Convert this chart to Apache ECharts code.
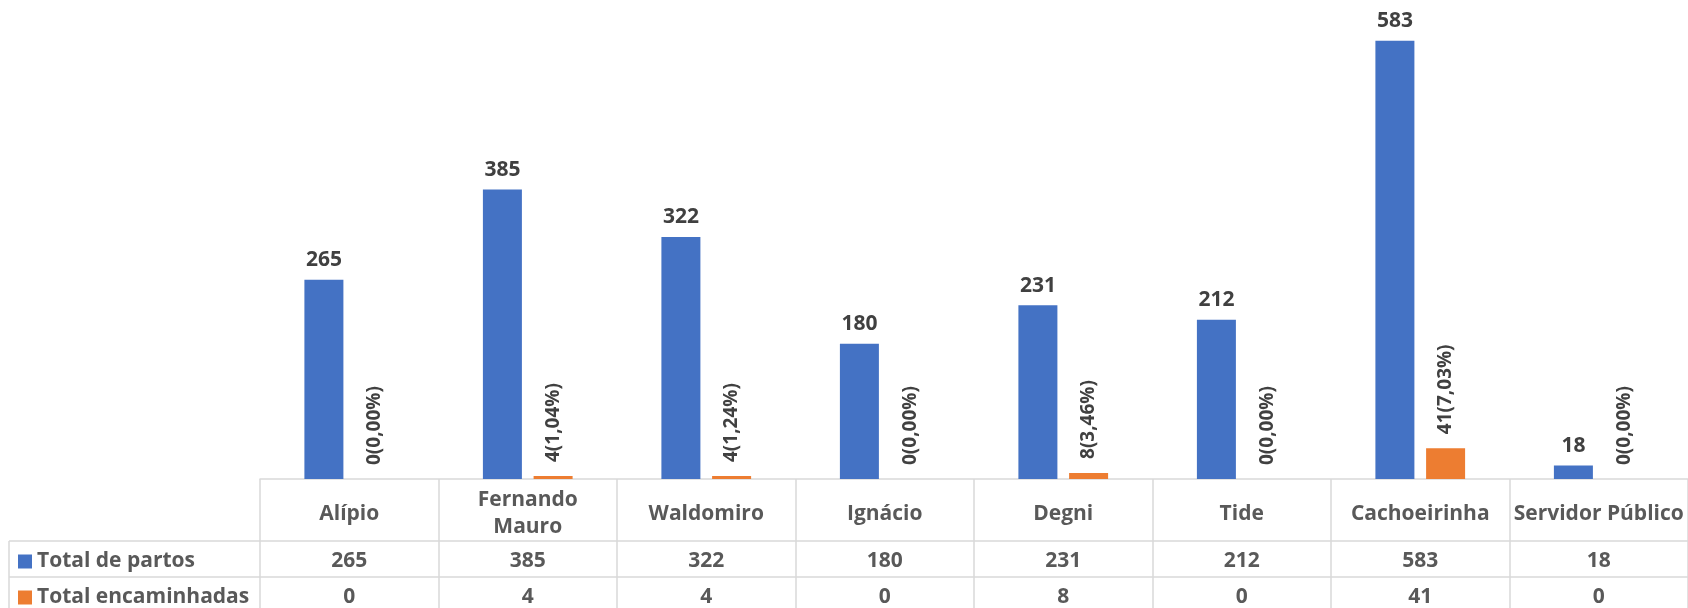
<!DOCTYPE html>
<html>
<head>
<meta charset="utf-8">
<title>Total de partos e encaminhadas por unidade</title>
<script src="https://cdn.jsdelivr.net/npm/echarts@6/dist/echarts.min.js"></script>
<style>
  html, body { margin: 0; padding: 0; background: #ffffff; }
  #chart { width: 1688px; height: 608px; }
</style>
</head>
<body>
<div id="chart"></div>
<script>
// Units (categories) and the two series shown as bars and in the data table
const categories = ['Alípio', 'Fernando\nMauro', 'Waldomiro', 'Ignácio', 'Degni', 'Tide', 'Cachoeirinha', 'Servidor Público'];
const totalPartos = [265, 385, 322, 180, 231, 212, 583, 18];
const totalEncaminhadas = [0, 4, 4, 0, 8, 0, 41, 0];
const seriesNames = ['Total de partos', 'Total encaminhadas'];

// Layout
const FONT = '"Open Sans", "Liberation Sans", sans-serif';
const GRID_LEFT = 260;
const GRID_TOP = 28;
const GRID_BOTTOM = 129;
const HEADER_H = 62;
const ROW_H = 36;
const TABLE_LEFT = 9;
const LINE_COLOR = '#d9d9d9';
const TEXT_COLOR = '#595959';
const LABEL_COLOR = '#404040';
const BLUE = '#4472C4';
const ORANGE = '#ED7D31';

const chart = echarts.init(document.getElementById('chart'), null, { renderer: 'canvas' });
const H = 608;
const baseY = H - GRID_BOTTOM;

// Share of referrals over births, written with a decimal comma
function pctLabel(params) {
  const i = params.dataIndex;
  const pct = (totalEncaminhadas[i] / totalPartos[i] * 100).toFixed(2).replace('.', ',');
  return totalEncaminhadas[i] + '(' + pct + '%)';
}

const tableText = {
  fontFamily: FONT,
  fontSize: 21,
  fontWeight: 'bold',
  color: TEXT_COLOR
};

function rowAxis(offset, values) {
  return {
    type: 'category',
    data: categories,
    position: 'bottom',
    offset: offset,
    axisLine: { show: true, lineStyle: { color: LINE_COLOR, width: 1.5 } },
    axisTick: { show: false },
    axisLabel: Object.assign({
      interval: 0,
      margin: 20,
      verticalAlign: 'middle',
      formatter: function (v, idx) { return String(values[idx]); }
    }, tableText)
  };
}

const option = {
  animation: false,
  backgroundColor: '#ffffff',
  grid: { left: GRID_LEFT, right: 0, top: GRID_TOP, bottom: GRID_BOTTOM, containLabel: false },
  legend: {
    data: seriesNames,
    orient: 'vertical',
    left: 18,
    top: 551,
    padding: 0,
    itemWidth: 14,
    itemHeight: 14,
    itemGap: 15,
    icon: 'rect',
    selectedMode: false,
    textStyle: Object.assign({ lineHeight: 20 }, tableText)
  },
  xAxis: [
    {
      type: 'category',
      data: categories,
      position: 'bottom',
      axisLine: { show: true, lineStyle: { color: LINE_COLOR, width: 1.5 } },
      axisTick: { show: true, interval: 0, length: HEADER_H + ROW_H * 2 + 10, lineStyle: { color: LINE_COLOR, width: 1.5 } },
      axisLabel: Object.assign({
        interval: 0,
        margin: 35,
        verticalAlign: 'middle',
        lineHeight: 27
      }, tableText)
    },
    rowAxis(HEADER_H, totalPartos),
    rowAxis(HEADER_H + ROW_H, totalEncaminhadas)
  ],
  yAxis: {
    type: 'value',
    min: 0,
    max: 600,
    show: false,
    splitLine: { show: false }
  },
  series: [
    {
      name: seriesNames[0],
      type: 'bar',
      data: totalPartos,
      barWidth: 39,
      barGap: '30%',
      itemStyle: { color: BLUE },
      label: {
        show: true,
        position: 'top',
        distance: 9,
        fontFamily: FONT,
        fontSize: 21,
        fontWeight: 'bold',
        color: LABEL_COLOR
      }
    },
    {
      name: seriesNames[1],
      type: 'bar',
      data: totalEncaminhadas,
      barWidth: 39,
      itemStyle: { color: ORANGE },
      label: {
        show: true,
        position: 'top',
        distance: 14,
        rotate: 90,
        align: 'left',
        verticalAlign: 'middle',
        formatter: pctLabel,
        fontFamily: FONT,
        fontSize: 19,
        fontWeight: 'bold',
        color: LABEL_COLOR
      }
    }
  ],
  // Legend column of the data table: row separators and left border
  graphic: [
    { type: 'line', shape: { x1: TABLE_LEFT, y1: baseY + HEADER_H, x2: GRID_LEFT, y2: baseY + HEADER_H }, style: { stroke: LINE_COLOR, lineWidth: 1.5 }, silent: true },
    { type: 'line', shape: { x1: TABLE_LEFT, y1: baseY + HEADER_H + ROW_H, x2: GRID_LEFT, y2: baseY + HEADER_H + ROW_H }, style: { stroke: LINE_COLOR, lineWidth: 1.5 }, silent: true },
    { type: 'line', shape: { x1: TABLE_LEFT, y1: baseY + HEADER_H, x2: TABLE_LEFT, y2: H }, style: { stroke: LINE_COLOR, lineWidth: 1.5 }, silent: true }
  ]
};

chart.setOption(option);
</script>
</body>
</html>
